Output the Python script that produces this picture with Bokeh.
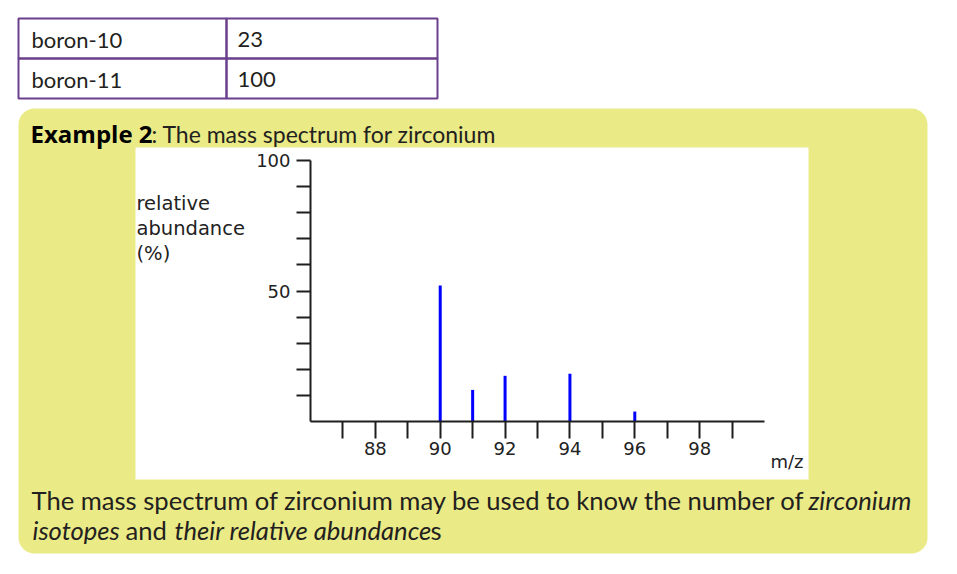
from bokeh.plotting import figure
from bokeh.models import BoxAnnotation, Label, FixedTicker
from bokeh.embed import file_html
from bokeh.resources import INLINE

# ---- data ----
table_isotopes = ["boron-10", "boron-11"]
table_abundance = ["23", "100"]
mz = [90, 91, 92, 94, 96]
abundance = [52.1, 12.1, 17.5, 18.3, 3.8]
x_ticks = [87, 88, 89, 90, 91, 92, 93, 94, 95, 96, 97, 98, 99]
x_tick_labels = ["88", "90", "92", "94", "96", "98"]
y_ticks = [10, 20, 30, 40, 50, 60, 70, 80, 90, 100]
y_tick_labels = ["50", "100"]
y_label_lines = ["relative", "abundance", "(%)"]
x_label = "m/z"

X_MIN, X_MAX = 86, 100
Y_MIN, Y_MAX = 0, 100

YELLOW = "#EAEA86"
PURPLE = "#6B3F8C"
INK = "#231F20"
AXC = "#1E1E1E"
TXT = "Lato"
BASE_K = 0.42   # baseline correction (fraction of font size)

W, H = 957, 574
FX0, FX1, FY0, FY1 = 310, 764, 160, 421  # where the axes box sits on the page (px)
SX = (FX1 - FX0) / (X_MAX - X_MIN)
SY = (FY1 - FY0) / (Y_MAX - Y_MIN)


def ux(px):
    return X_MIN + (px - FX0) / SX


def uy(py):
    return Y_MIN + (FY1 - py) / SY


p = figure(width=W, height=H, x_range=(ux(0), ux(W)), y_range=(uy(H), uy(0)),
           output_backend="svg", toolbar_location=None, min_border=0)
p.outline_line_color = None
p.background_fill_color = "white"
p.border_fill_color = "white"
p.xgrid.visible = False
p.ygrid.visible = False


def rect(l, r, t, b, fill=None, line=None, lw=0):
    p.quad(left=ux(l), right=ux(r), top=uy(t), bottom=uy(b),
           fill_color=fill if fill else None, fill_alpha=1 if fill else 0,
           line_color=line, line_width=lw, line_alpha=1 if line else 0)


def label(px, py, text, size, font=TXT, style="normal", color=INK):
    p.add_layout(Label(x=ux(px), y=uy(py - BASE_K * size), text=text, text_font=font,
                       text_font_size=f"{size}px", text_font_style=style,
                       text_color=color, text_baseline="alphabetic",
                       text_align="left"))


# ---- page decoration ----
p.add_layout(BoxAnnotation(left=ux(18), right=ux(927), top=uy(108), bottom=uy(553),
                           fill_color=YELLOW, fill_alpha=1, line_color=None,
                           border_radius=16, level="underlay"))
rect(135, 808, 147, 479, fill="white")
for (l, r, t, b) in [(18, 226, 18, 58), (226, 437, 18, 58), (18, 226, 58, 98), (226, 437, 58, 98)]:
    rect(l, r, t, b, line=PURPLE, lw=2)

label(31, 48, table_isotopes[0], 22)
label(31, 88, table_isotopes[1], 22)
label(237, 48, table_abundance[0], 22)
label(237, 88, table_abundance[1], 22)
label(30, 143, "Example 2", 24, font="Open Sans", style="bold", color="#000000")
label(151, 143, ": The mass spectrum for zirconium", 23)

for i, line in enumerate(y_label_lines):
    label(136, 211 + 25 * i, line, 19.5, font="DejaVu Sans", color="#222222")
label(770, 469, x_label, 18, font="DejaVu Sans", color="#222222")

label(31, 510, "The mass spectrum of zirconium may be used to know the number of", 25.6)
label(808, 510, "zirconium", 25.6, style="italic")
label(32, 540, "isotopes", 25.6, style="italic")
label(125, 540, "and", 25.6)
label(174, 540, "their relative abundance", 25.6, style="italic")
label(430, 540, "s", 25.6)

# ---- spectrum ----
p.segment(x0=mz, y0=[0] * len(mz), x1=mz, y1=abundance, line_color="#0000FF",
          line_width=3, line_cap="butt")

xa = p.xaxis[0]
xa.fixed_location = Y_MIN
xa.bounds = (X_MIN, X_MAX)
xa.ticker = FixedTicker(ticks=x_ticks)
xa.major_label_overrides = {t: (str(t) if str(t) in x_tick_labels else "") for t in x_ticks}
xa.minor_tick_line_color = None
xa.major_tick_out = 17
xa.major_tick_in = 0
xa.major_tick_line_width = 2
xa.major_tick_line_color = AXC
xa.axis_line_width = 2
xa.axis_line_color = AXC
xa.major_label_standoff = 3
xa.major_label_text_font = "DejaVu Sans"
xa.major_label_text_font_size = "18px"
xa.major_label_text_color = "#222222"

ya = p.yaxis[0]
ya.fixed_location = X_MIN
ya.bounds = (Y_MIN, Y_MAX)
ya.ticker = FixedTicker(ticks=y_ticks)
ya.major_label_overrides = {t: (str(t) if str(t) in y_tick_labels else "") for t in y_ticks}
ya.minor_tick_line_color = None
ya.major_tick_out = 14
ya.major_tick_in = 0
ya.major_tick_line_width = 2
ya.major_tick_line_color = AXC
ya.axis_line_width = 2
ya.axis_line_color = AXC
ya.major_label_standoff = 6
ya.major_label_text_font = "DejaVu Sans"
ya.major_label_text_font_size = "18px"
ya.major_label_text_color = "#222222"

open("out.html", "w").write(file_html(p, INLINE))
